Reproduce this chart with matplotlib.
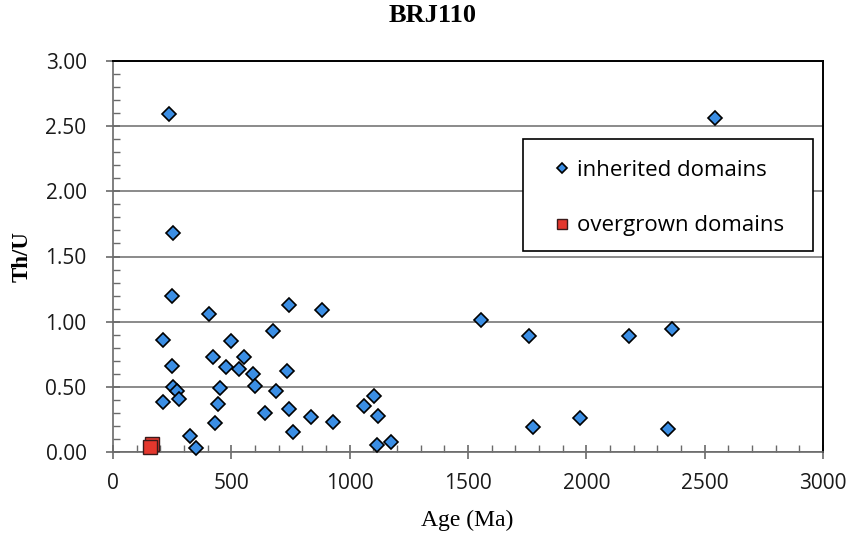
import matplotlib
matplotlib.use("Agg")
import matplotlib.pyplot as plt
from matplotlib.patches import Rectangle
from matplotlib.ticker import MultipleLocator, FormatStrFormatter

title = "BRJ110"
x_label = "Age (Ma)"
y_label = "Th/U"

inherited_age = [237, 254, 250, 407, 742, 881, 212, 500, 678, 250, 424, 555, 479, 534,
                 593, 737, 601, 254, 271, 453, 690, 212, 280, 444, 742, 644, 838, 431,
                 762, 326, 351, 930, 1059, 1101, 1118, 1114, 1173,
                 1557, 1756, 2179, 2361, 1773, 1972, 2344, 2543]
inherited_thu = [2.59, 1.68, 1.20, 1.06, 1.13, 1.09, 0.86, 0.85, 0.93, 0.66, 0.73, 0.73, 0.65, 0.64,
                 0.60, 0.62, 0.51, 0.50, 0.47, 0.49, 0.47, 0.38, 0.41, 0.37, 0.33, 0.30, 0.27, 0.22,
                 0.15, 0.12, 0.03, 0.23, 0.35, 0.43, 0.28, 0.05, 0.08,
                 1.01, 0.89, 0.89, 0.94, 0.19, 0.26, 0.18, 2.56]

overgrown_age = [164, 158]
overgrown_thu = [0.06, 0.04]

legend_labels = ["inherited domains", "overgrown domains"]

W, H = 852, 540
fig = plt.figure(figsize=(W/100, H/100), dpi=100)
AX_L, AX_R, AX_T, AX_B = 113, 823, 61, 452
ax = fig.add_axes([AX_L/W, 1-AX_B/H, (AX_R-AX_L)/W, (AX_B-AX_T)/H])

def ax_frac(px, py):
    return (px-AX_L)/(AX_R-AX_L), (AX_B-py)/(AX_B-AX_T)

ax.set_xlim(0, 3000)
ax.set_ylim(0, 3.0)
ax.xaxis.set_major_locator(MultipleLocator(500))
ax.xaxis.set_minor_locator(MultipleLocator(100))
ax.yaxis.set_major_locator(MultipleLocator(0.5))
ax.yaxis.set_minor_locator(MultipleLocator(0.1))
ax.yaxis.set_major_formatter(FormatStrFormatter("%.2f"))

ax.grid(axis="y", which="major", color="#8a8a8a", linewidth=1.4, zorder=0)
ax.set_axisbelow(True)

for s in ["top", "right"]:
    ax.spines[s].set_color("black")
    ax.spines[s].set_linewidth(1.4)
for s in ["left", "bottom"]:
    ax.spines[s].set_color("#6a6a6a")
    ax.spines[s].set_linewidth(1.2)

ax.tick_params(which="major", direction="inout", length=10, width=1.2, color="#6a6a6a")
ax.tick_params(which="minor", direction="in", length=5, width=1.0, color="#6a6a6a")
ax.tick_params(axis="y", which="major", pad=14)
ax.tick_params(axis="x", which="major", pad=10)
for lab in ax.get_xticklabels() + ax.get_yticklabels():
    lab.set_fontfamily(["Open Sans", "DejaVu Sans"])
    lab.set_fontsize(15)
    lab.set_color("#1a1a1a")

ax.plot(inherited_age, inherited_thu, linestyle="none", marker="D", markersize=7.2,
        markerfacecolor="#3b8ee4", markeredgecolor="black", markeredgewidth=1.2,
        label=legend_labels[0], zorder=3, clip_on=False)
ax.plot(overgrown_age, overgrown_thu, linestyle="none", marker="s", markersize=9.5,
        markerfacecolor="#e5372d", markeredgecolor="#3a1a1a", markeredgewidth=1.0,
        label=legend_labels[1], zorder=4, clip_on=False)

fig.text(433/W, 1-16/H, title, ha="center", va="center",
         family=["Liberation Serif"], fontweight="bold", fontsize=19)
fig.text(467/W, 1-520/H, x_label, ha="center", va="center",
         family=["Liberation Serif"], fontsize=17)
fig.text(22/W, 1-257/H, y_label, ha="center", va="center", rotation=90,
         family=["Liberation Serif"], fontweight="bold", fontsize=16.5)

# legend frame drawn separately
x0, y0 = ax_frac(523, 251)
x1, y1 = ax_frac(813, 139)
frame = Rectangle((x0, y0), x1-x0, y1-y0, transform=ax.transAxes,
                  facecolor="white", edgecolor="black", linewidth=1.2, zorder=5,
                  clip_on=False)
ax.add_patch(frame)

lx, ly = ax_frac(551, 160)
leg = ax.legend(loc="upper left", bbox_to_anchor=(lx, ly),
                frameon=False,
                prop={"family": ["Open Sans", "DejaVu Sans"], "size": 16},
                handlelength=1.0, handletextpad=0.18, labelspacing=1.55,
                borderpad=0, borderaxespad=0, markerscale=0.72)
leg.set_zorder(6)

fig.savefig("out.png", dpi=100)
